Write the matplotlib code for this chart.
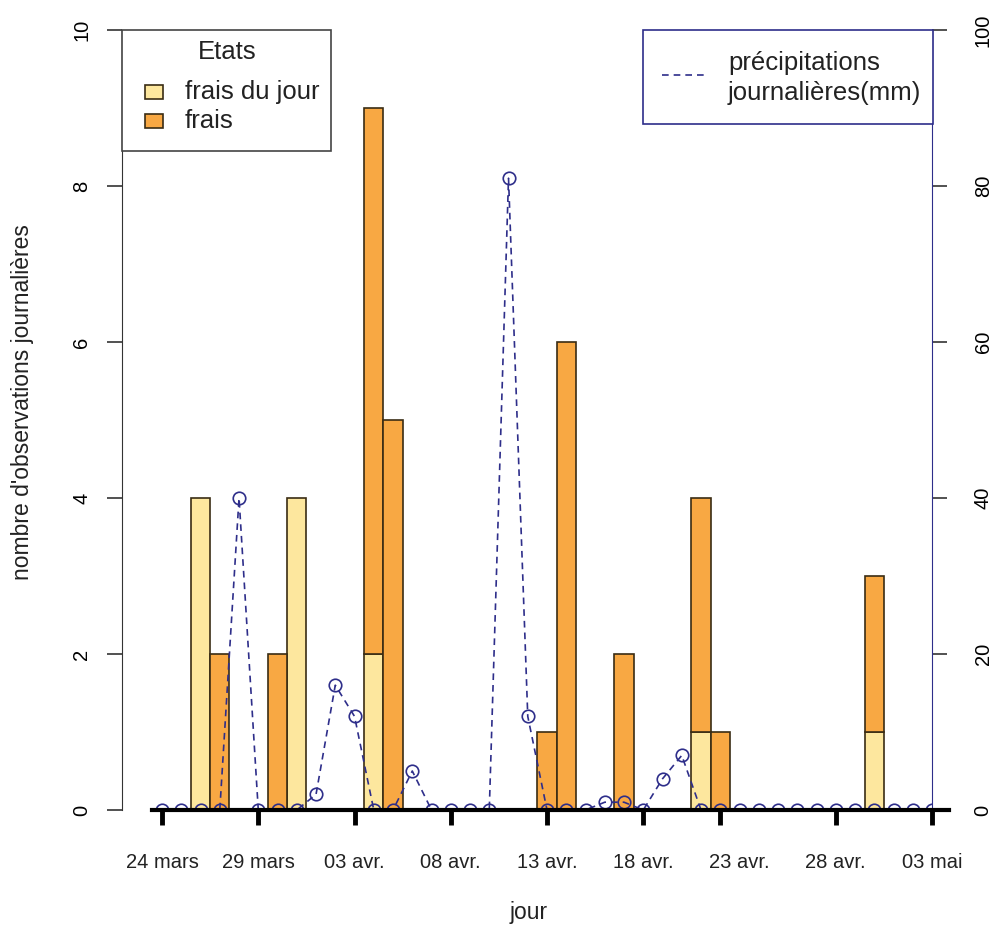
import matplotlib.pyplot as plt
import numpy as np
from matplotlib.patches import Rectangle
from matplotlib.lines import Line2D

plt.rcParams['font.family'] = ['Liberation Sans', 'DejaVu Sans']

# 41 days from 24 mars to 03 mai
jours = np.arange(41)
frais_du_jour = [0, 0, 4, 0, 0, 0, 0, 4, 0, 0, 0, 2, 0, 0, 0, 0, 0, 0, 0, 0,
                 0, 0, 0, 0, 0, 0, 0, 0, 1, 0, 0, 0, 0, 0, 0, 0, 0, 1, 0, 0, 0]
frais = [0, 0, 0, 2, 0, 0, 2, 0, 0, 0, 0, 7, 5, 0, 0, 0, 0, 0, 0, 0,
         1, 6, 0, 0, 2, 0, 0, 0, 3, 1, 0, 0, 0, 0, 0, 0, 0, 2, 0, 0, 0]
precip = [0, 0, 0, 0, 40, 0, 0, 0, 2, 16, 12, 0, 0, 5, 0, 0, 0, 0, 81, 12,
          0, 0, 0, 1, 1, 0, 4, 7, 0, 0, 0, 0, 0, 0, 0, 0, 0, 0, 0, 0, 0]

tick_pos = [0, 5, 10, 15, 20, 25, 29, 35, 40]
label_pos = [0, 5, 10, 15, 20, 25, 30, 35, 40]
tick_labels = ['24 mars', '29 mars', '03 avr.', '08 avr.', '13 avr.',
               '18 avr.', '23 avr.', '28 avr.', '03 mai']

jaune = '#fde79e'
orange = '#f8a843'
bord = '#3a2c14'
bleu = '#2e2e8a'
W, H = 994, 933


def fx(x):
    return x / W


def fy(y):
    return 1 - y / H


fig = plt.figure(figsize=(9.94, 9.33), dpi=100)
ax = fig.add_axes([122/W, 123/H, 810/W, 780/H])

fdj = np.array(frais_du_jour)
fr = np.array(frais)
m1 = fdj > 0
m2 = fr > 0
ax.bar(jours[m1], fdj[m1], width=1, color=jaune, edgecolor=bord, linewidth=1.2)
ax.bar(jours[m2], fr[m2], bottom=fdj[m2], width=1, color=orange,
       edgecolor=bord, linewidth=1.2)

ax.set_xlim(-2.08, 40)
ax.set_ylim(0, 10)
for s in ['top', 'bottom', 'right']:
    ax.spines[s].set_visible(False)
ax.spines['left'].set_color('#333333')
ax.set_yticks([0, 2, 4, 6, 8, 10])
ax.tick_params(axis='y', length=11, width=1.2, color='#333333', pad=11,
               labelsize=14.5, labelrotation=90)
for t in ax.get_yticklabels():
    t.set_va('center')

ax.set_xticks(tick_pos, [''] * len(tick_pos))
ax.tick_params(axis='x', length=11, width=3.5, color='black')
for p, lab in zip(label_pos, tick_labels):
    ax.text(p, -52/780, lab, transform=ax.get_xaxis_transform(),
            ha='center', va='center', fontsize=14.5, color='#222222')

ax2 = ax.twinx()
ax2.set_ylim(0, 100)
ax2.plot(jours, precip, linestyle=(0, (4, 3)), color=bleu, linewidth=1.2,
         marker='o', markersize=9, markerfacecolor='none',
         markeredgecolor=bleu, markeredgewidth=1.2)
ax2.plot([-0.52, 40.9], [0, 0], color='black', linewidth=3, clip_on=False,
         zorder=5)
for s in ['top', 'bottom', 'left']:
    ax2.spines[s].set_visible(False)
ax2.spines['right'].set_color(bleu)
ax2.set_yticks([0, 20, 40, 60, 80, 100])
ax2.tick_params(axis='y', length=11, width=1.2, color='#333333', pad=19,
                labelsize=14.5, labelrotation=90)
for t in ax2.get_yticklabels():
    t.set_va('center')

# legend "Etats" (drawn by hand to follow the R layout)
fs = 18.5
fig.add_artist(Rectangle((fx(122), fy(151)), fx(331) - fx(122), fy(30) - fy(151),
                         transform=fig.transFigure, facecolor='white',
                         edgecolor='#444444', linewidth=1.2, zorder=10))
fig.text(fx(227), fy(52), 'Etats', ha='center', va='center', fontsize=fs,
         color='#222222', zorder=11)
for yc, col, lab in [(92, jaune, 'frais du jour'), (121, orange, 'frais')]:
    fig.add_artist(Rectangle((fx(145), fy(yc + 7)), fx(163) - fx(145), 14/H,
                             transform=fig.transFigure, facecolor=col,
                             edgecolor=bord, linewidth=1.2, zorder=11))
    fig.text(fx(185), fy(yc), lab, ha='left', va='center', fontsize=fs,
             color='#222222', zorder=11)

# legend precipitations
fig.add_artist(Rectangle((fx(643), fy(124)), fx(933) - fx(643), fy(30) - fy(124),
                         transform=fig.transFigure, facecolor='white',
                         edgecolor=bleu, linewidth=1.2, zorder=10))
fig.add_artist(Line2D([fx(662), fx(708)], [fy(75), fy(75)],
                      transform=fig.transFigure, color=bleu,
                      linestyle=(0, (4, 3)), linewidth=1.2, zorder=11))
fig.text(fx(728), fy(78), 'précipitations\njournalières(mm)', ha='left',
         va='center', fontsize=fs, color='#222222', linespacing=1.35, zorder=11)

fig.text(23/W, fy(402), "nombre d'observations journalières",
         rotation=90, ha='center', va='center', fontsize=16.5, color='#222222')
fig.text(529/W, fy(913), 'jour', ha='center', va='center',
         fontsize=16.5, color='#222222')

fig.savefig('out.png', dpi=100)
